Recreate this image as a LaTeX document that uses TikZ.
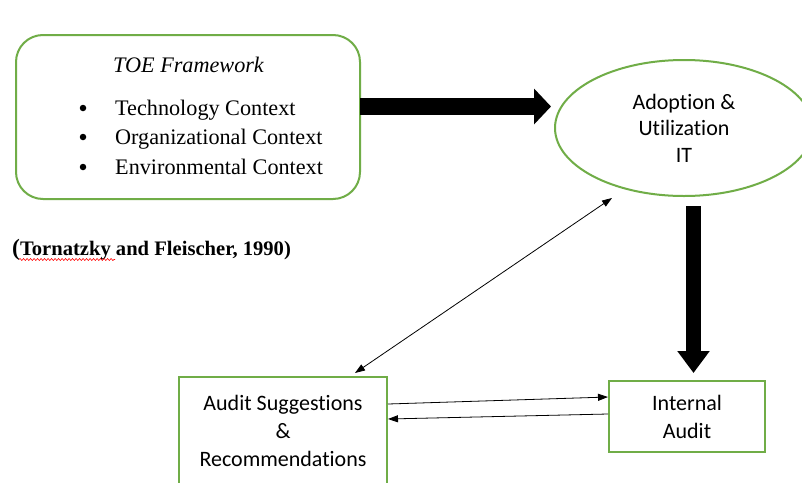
\documentclass[tikz,border=0pt]{standalone}
\usepackage{fontspec}
\setmainfont{Liberation Serif}
\newfontfamily\calib[Ligatures=NoCommon]{Carlito}
\usetikzlibrary{arrows.meta,shapes.geometric,decorations.pathmorphing,calc}
\definecolor{boxgreen}{HTML}{70AD47}
\begin{document}
\begin{tikzpicture}[x=1pt,y=-1pt,
 greenline/.style={draw=boxgreen, line width=2pt},
 calibtext/.style={font=\calib\fontsize{22}{28}\selectfont, align=center},
 serif/.style={font=\fontsize{22.2}{29}\selectfont, anchor=base west, inner sep=0pt},
 bulletdot/.style={circle, fill=black, inner sep=0pt, minimum size=6.5pt},
 thinarrow/.style={line width=0.8pt, -{Triangle[length=10pt,width=7pt]}},
 bigarrow/.style={line width=17pt, -{Triangle[length=17pt,width=35pt]}},
]
\useasboundingbox (0,0) rectangle (802,482);
\clip (0,0) rectangle (802,482);
\fill[white] (0,0) rectangle (802,482);

% TOE framework box
\node[greenline, rounded corners=27pt, minimum width=344pt, minimum height=164pt, inner sep=0pt] (toe) at (188,117) {};
\node[serif, font=\itshape\fontsize{22.2}{29}\selectfont] (title) at (113,72) {TOE Framework};
\node[bulletdot] (b1) at (83,108) {};
\node[bulletdot] (b2) at (83,137) {};
\node[bulletdot] (b3) at (83,167) {};
\node[serif] (t1) at (115,115) {Technology Context};
\node[serif] (t2) at (115,144) {Organizational Context};
\node[serif] (t3) at (115,174) {Environmental Context};

% citation
\node[anchor=base west, inner sep=0pt, font=\bfseries\fontsize{20.6}{24}\selectfont] (cite) at (12,255) {{\fontsize{23.5}{24}\selectfont(}Tornatzky and Fleischer, 1990)};
\draw[red, line width=0.6pt, decorate, decoration={snake, amplitude=1pt, segment length=3.5pt}] ([shift={(7,4.5)}]cite.base west) -- ++(96,0);

% ellipse
\node[ellipse, greenline, minimum width=258pt, minimum height=136pt, calibtext, font=\calib\fontsize{22}{26.5}\selectfont] (ell) at (684,128) {Adoption \&\\Utilization\\IT};

% boxes
\node[rectangle, greenline, minimum width=156pt, minimum height=71pt, calibtext] (int) at (687,416.5) {Internal\\Audit};
\node[rectangle, greenline, minimum width=208pt, minimum height=108pt, calibtext] (sug) at (283,431) {Audit Suggestions\\\&\\Recommendations};

% thick arrows
\draw[bigarrow] ([shift={(-1,-10.5)}]toe.east) -- ([shift={(-3,-21.5)}]ell.west);
\draw[line width=15pt, -{Triangle[length=22pt,width=31pt]}] ([shift={(9.5,9)}]ell.south) -- ([shift={(6.5,-7)}]int.north);

% thin arrows
\coordinate (d1) at (612,198);
\coordinate (d2) at (355,373);
\draw[line width=0.8pt, {Triangle[length=10pt,width=7pt]}-{Triangle[length=10pt,width=7pt]}] (d1) -- (d2);
\draw[thinarrow] (sug.east |- 0,404) -- (int.west |- 0,397);
\draw[thinarrow] (int.west |- 0,414) -- (sug.east |- 0,419);
\end{tikzpicture}
\end{document}
